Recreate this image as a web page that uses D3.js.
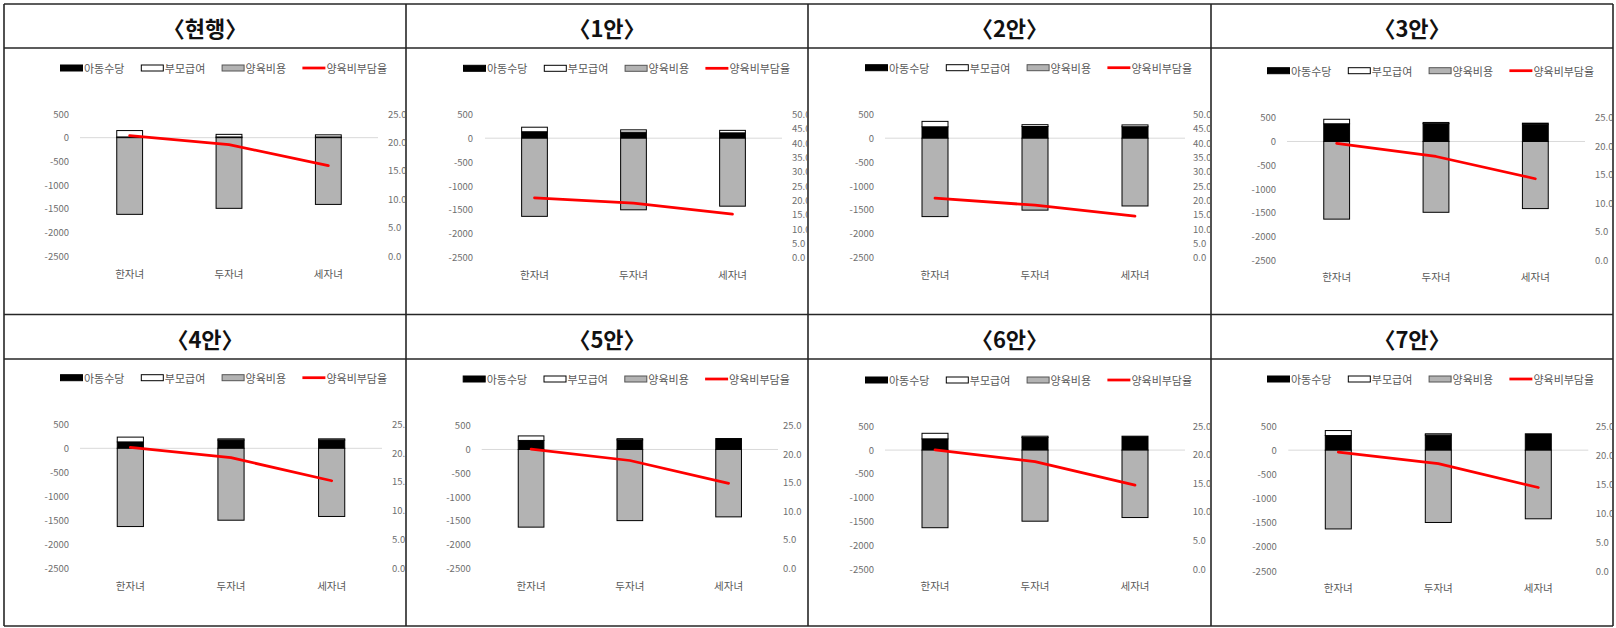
<!DOCTYPE html>
<html><head><meta charset="utf-8">
<script src="https://cdn.jsdelivr.net/npm/d3@7"></script>
<style>
body{margin:0;background:#fff}
svg{display:block}
text{font-family:"Noto Sans CJK KR","Noto Sans",sans-serif}
</style>
</head><body>
<svg id="c" width="1616" height="628"></svg>
<script>
// ---------- data ----------
const categories = ["한자녀", "두자녀", "세자녀"];
const planTitles = ["〈현행〉", "〈1안〉", "〈2안〉", "〈3안〉", "〈4안〉", "〈5안〉", "〈6안〉", "〈7안〉"];
const legendLabels = ["아동수당", "부모급여", "양육비용", "양육비부담율"];
// 아동수당 (per plan, per category)
const childAllowance = [
  [15, 15, 15],
  [135, 125, 112],
  [238, 245, 240],
  [372, 375, 365],
  [133, 172, 172],
  [190, 202, 230],
  [236, 266, 292],
  [302, 312, 338]
];
// 부모급여
const parentBenefit = [
  [135, 55, 45],
  [95, 50, 52],
  [114, 38, 38],
  [95, 25, 20],
  [100, 25, 25],
  [95, 25, 0],
  [117, 26, 0],
  [104, 27, 0]
];
// 양육비용
const childcareCost = [
  [-1620, -1493, -1410],
  [-1635, -1498, -1422],
  [-1640, -1505, -1418],
  [-1634, -1490, -1412],
  [-1630, -1498, -1420],
  [-1634, -1497, -1418],
  [-1632, -1495, -1418],
  [-1630, -1496, -1420]
];
// 양육비부담율 (%)
const burdenRate = [
  [21.2, 19.6, 15.9],
  [20.9, 19.0, 15.2],
  [20.8, 18.3, 14.5],
  [20.5, 18.2, 14.3],
  [21.0, 19.2, 15.2],
  [20.9, 18.9, 14.9],
  [20.85, 18.8, 14.7],
  [20.5, 18.5, 14.4]
];
const leftTicks = [500, 0, -500, -1000, -1500, -2000, -2500];
const rightTicksSmall = [0, 5, 10, 15, 20, 25];
const rightTicksLarge = [0, 5, 10, 15, 20, 25, 30, 35, 40, 45, 50];
const rightAxisMax = [25, 50, 50, 25, 25, 25, 25, 25];

// ---------- layout (positions only) ----------
const colX = [4, 406, 808, 1211, 1613];
const rowY = [4, 315, 626];
const titleH = [44, 44];
const layout = [
  {gl:76,   gr:374,   yTop:110,   yBot:252,   lab:65,   rlab:384,   leg:64,   sw:56,   cat:269},
  {gl:79,   gr:376,   yTop:110.3, yBot:253.7, lab:67,   rlab:386,   leg:64.3, sw:57,   cat:270},
  {gl:77,   gr:377,   yTop:110.3, yBot:253.7, lab:66,   rlab:385,   leg:63.7, sw:57,   cat:270},
  {gl:76,   gr:374,   yTop:113.7, yBot:256.3, lab:65,   rlab:384,   leg:66.7, sw:56,   cat:272.7},
  {gl:76,   gr:378,   yTop:109.3, yBot:253.3, lab:65,   rlab:388,   leg:62.7, sw:56,   cat:270},
  {gl:75.7, gr:372,   yTop:110.7, yBot:253.3, lab:64.7, rlab:377,   leg:64,   sw:56.7, cat:270.3},
  {gl:77,   gr:377,   yTop:111.3, yBot:254,   lab:66,   rlab:384.7, leg:65,   sw:57,   cat:270.3},
  {gl:77.3, gr:377.3, yTop:111,   yBot:256,   lab:65.7, rlab:384.7, leg:64,   sw:56,   cat:272.7}
];
const colors = {black:"#000000", white:"#ffffff", gray:"#b3b3b3", red:"#ff0000", text:"#595959", axis:"#6e6e6e", grid:"#d9d9d9"};

const svg = d3.select("#c");
const defs = svg.append("defs");

const seriesKeys = ["a", "b", "c"];
const seriesFill = {a: colors.black, b: colors.white, c: colors.gray};

planTitles.forEach((title, i) => {
  const col = i % 4, row = Math.floor(i / 4);
  const x0 = colX[col], x1 = colX[col + 1];
  const y0 = rowY[row], y1 = rowY[row + 1];
  const L = layout[i];

  defs.append("clipPath").attr("id", "clip" + i)
    .append("rect").attr("x", x0 + 1).attr("y", y0 + 1).attr("width", x1 - x0 - 2).attr("height", y1 - y0 - 2);

  const outer = svg.append("g").attr("clip-path", `url(#clip${i})`);
  const g = outer.append("g").attr("transform", `translate(${x0},${y0})`);

  // title
  g.append("text").attr("x", (x1 - x0) / 2).attr("y", titleH[row] / 2 + 1)
    .attr("text-anchor", "middle").attr("dominant-baseline", "central")
    .attr("font-size", 22).attr("font-weight", 700).attr("fill", "#111")
    .text(title);

  // scales
  const x = d3.scaleBand().domain(categories).range([L.gl, L.gr]).paddingInner(0.74).paddingOuter(0.37);
  const yL = d3.scaleLinear().domain([-2500, 500]).range([L.yBot, L.yTop]);
  const yR = d3.scaleLinear().domain([0, rightAxisMax[i]]).range([L.yBot, L.yTop]);

  // left axis
  const leftAxis = d3.axisLeft(yL).tickValues(leftTicks).tickSize(0).tickPadding(0)
    .tickFormat(d => d < 0 ? "-" + Math.abs(d) : String(d));
  const la = g.append("g").attr("transform", `translate(${L.lab},0)`).call(leftAxis);
  la.select(".domain").remove();
  la.selectAll("text").attr("font-size", 9.5).attr("fill", colors.axis).attr("font-family", '"Noto Sans CJK KR",sans-serif');

  // right axis
  const rt = rightAxisMax[i] === 50 ? rightTicksLarge : rightTicksSmall;
  const rightAxis = d3.axisRight(yR).tickValues(rt).tickSize(0).tickPadding(0).tickFormat(d3.format(".1f"));
  const ra = g.append("g").attr("transform", `translate(${L.rlab},0)`).call(rightAxis);
  ra.select(".domain").remove();
  ra.selectAll("text").attr("font-size", 9.5).attr("fill", colors.axis).attr("font-family", '"Noto Sans CJK KR",sans-serif');

  // zero gridline
  g.append("line").attr("x1", L.gl).attr("x2", L.gr).attr("y1", yL(0)).attr("y2", yL(0))
    .attr("stroke", colors.grid).attr("stroke-width", 1);

  // stacked bars
  const rows = categories.map((c, k) => ({cat: c, a: childAllowance[i][k], b: parentBenefit[i][k], c: childcareCost[i][k]}));
  const stacked = d3.stack().keys(seriesKeys).offset(d3.stackOffsetDiverging)(rows);
  stacked.forEach(s => {
    g.append("g").selectAll("rect").data(s).join("rect")
      .attr("x", d => x(d.data.cat))
      .attr("width", x.bandwidth())
      .attr("y", d => yL(Math.max(d[0], d[1])))
      .attr("height", d => Math.abs(yL(d[0]) - yL(d[1])))
      .attr("fill", seriesFill[s.key])
      .attr("stroke", "#000").attr("stroke-width", 1)
      .attr("stroke-opacity", d => Math.abs(d[1] - d[0]) > 0 ? 1 : 0);
  });

  // line
  const line = d3.line().x((d, k) => x(categories[k]) + x.bandwidth() / 2).y(d => yR(d));
  g.append("path").datum(burdenRate[i]).attr("d", line)
    .attr("fill", "none").attr("stroke", colors.red).attr("stroke-width", 2.75)
    .attr("stroke-linejoin", "round").attr("stroke-linecap", "round");

  // category labels
  g.append("g").selectAll("text").data(categories).join("text")
    .attr("x", d => x(d) + x.bandwidth() / 2).attr("y", L.cat)
    .attr("text-anchor", "middle").attr("dominant-baseline", "central")
    .attr("font-size", 10.5).attr("fill", colors.text).text(d => d);

  // legend
  const lg = g.append("g");
  legendLabels.forEach((lbl, k) => {
    const sx = L.sw + k * 80.8;
    if (k < 3) {
      lg.append("rect").attr("x", sx + 0.5).attr("y", L.leg - 3).attr("width", 22).attr("height", 6)
        .attr("fill", [colors.black, colors.white, colors.gray][k]).attr("stroke", k === 2 ? "#555" : "#000").attr("stroke-width", 1);
    } else {
      lg.append("line").attr("x1", sx).attr("x2", sx + 23).attr("y1", L.leg).attr("y2", L.leg)
        .attr("stroke", colors.red).attr("stroke-width", 2.75);
    }
    lg.append("text").attr("x", sx + 24).attr("y", L.leg).attr("dominant-baseline", "central")
      .attr("font-size", 11).attr("fill", colors.text).text(lbl);
  });
});

// table borders
const border = svg.append("g").attr("stroke", "#262626").attr("stroke-width", 1.6).attr("fill", "none");
colX.forEach(xv => border.append("line").attr("x1", xv).attr("x2", xv).attr("y1", rowY[0]).attr("y2", rowY[2]));
[4, 48, 314.5, 359, 626].forEach(yv => border.append("line").attr("x1", colX[0]).attr("x2", colX[4]).attr("y1", yv).attr("y2", yv));
</script>
</body></html>
